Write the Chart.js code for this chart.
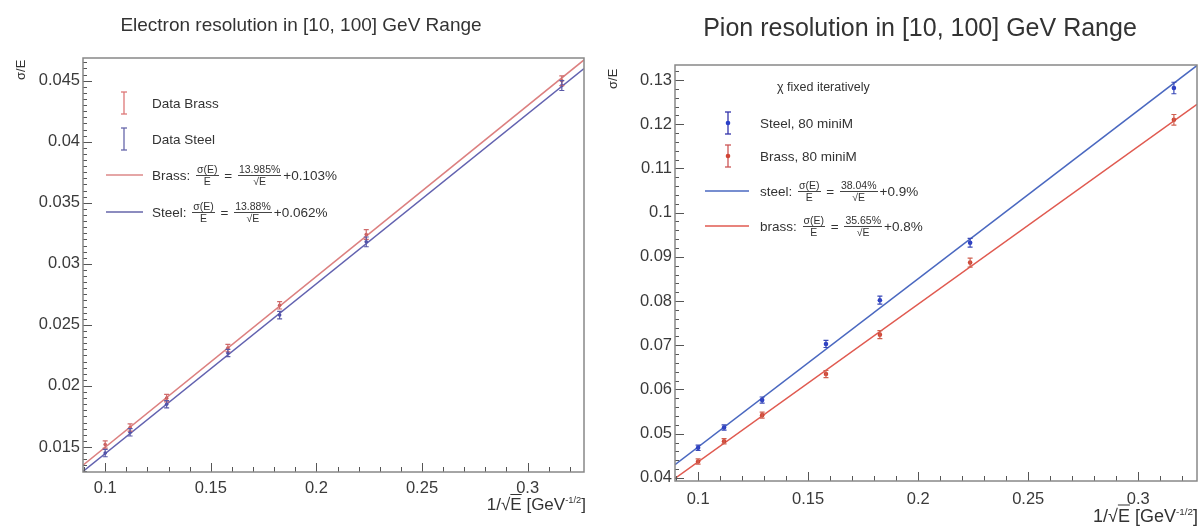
<!DOCTYPE html>
<html lang="en">
<head>
<meta charset="UTF-8">
<title>Electron / Pion resolution</title>
<script src="https://cdn.jsdelivr.net/npm/chart.js"></script>
<style>
    body { margin: 0; background: #fff; font-family: "Liberation Sans", Arial, sans-serif; color: #333; }
    #page { position: relative; width: 1203px; height: 526px; overflow: hidden; }
    .panel { position: absolute; top: 0; }
    .title { position: absolute; white-space: nowrap; transform: translate(-50%, -50%); color: #333; }
    .ytitle { position: absolute; transform-origin: left top; transform: rotate(-90deg); font-size: 13px; white-space: nowrap; line-height: 14px; }
    .xtitle { position: absolute; white-space: nowrap; transform: translate(-100%, -50%); }
    .xtitle sup { font-size: 55%; }
    .ov { text-decoration: overline; }
    .row { position: absolute; white-space: nowrap; display: flex; align-items: center; transform: translateY(-50%); font-size: 13.5px; }
    .frac { display: inline-flex; flex-direction: column; align-items: center; font-size: 10.5px; line-height: 10.5px; margin: 0 2px; }
    .frac .num { border-bottom: 1px solid #444; padding: 0 1px; }
    .sym { position: absolute; }
</style>
</head>
<body>
<div id="page">
    <canvas id="elec" class="panel" style="left:0" width="600" height="526"></canvas>
    <canvas id="pion" class="panel" style="left:600px" width="603" height="526"></canvas>

    <div class="title" style="left:301px; top:25px; font-size:19px">Electron resolution in [10, 100] GeV Range</div>
    <div class="title" style="left:920px; top:27px; font-size:25px">Pion resolution in [10, 100] GeV Range</div>

    <div class="ytitle" style="left:14px; top:80px">σ/E</div>
    <div class="ytitle" style="left:606px; top:89px">σ/E</div>
    <div class="xtitle" style="left:586px; top:505px; font-size:17px">1/√<span class="ov">E</span> [GeV<sup>-1/2</sup>]</div>
    <div class="xtitle" style="left:1198px; top:516px; font-size:18px">1/√<span class="ov">E</span> [GeV<sup>-1/2</sup>]</div>

    <!-- electron legend -->
    <svg class="sym" style="left:119px; top:91px" width="10" height="60">
        <line x1="5" y1="1" x2="5" y2="23" stroke="#d77" stroke-width="1.3"/>
        <line x1="2" y1="1" x2="8" y2="1" stroke="#d77" stroke-width="1.3"/>
        <line x1="2" y1="23" x2="8" y2="23" stroke="#d77" stroke-width="1.3"/>
        <line x1="5" y1="37" x2="5" y2="59" stroke="#66a" stroke-width="1.3"/>
        <line x1="2" y1="37" x2="8" y2="37" stroke="#66a" stroke-width="1.3"/>
        <line x1="2" y1="59" x2="8" y2="59" stroke="#66a" stroke-width="1.3"/>
    </svg>
    <div class="row" style="left:152px; top:103px">Data Brass</div>
    <div class="row" style="left:152px; top:139px">Data Steel</div>
    <svg class="sym" style="left:106px; top:170px" width="37" height="46">
        <line x1="0" y1="5" x2="37" y2="5" stroke="#d88" stroke-width="1.5"/>
        <line x1="0" y1="42" x2="37" y2="42" stroke="#66a" stroke-width="1.5"/>
    </svg>
    <div class="row" style="left:152px; top:175px">Brass:&nbsp;<span class="frac"><span class="num">σ(E)</span><span>E</span></span>&nbsp;=&nbsp;<span class="frac"><span class="num">13.985%</span><span>√E</span></span>+0.103%</div>
    <div class="row" style="left:152px; top:212px">Steel:&nbsp;<span class="frac"><span class="num">σ(E)</span><span>E</span></span>&nbsp;=&nbsp;<span class="frac"><span class="num">13.88%</span><span>√E</span></span>+0.062%</div>

    <!-- pion legend -->
    <div class="row" style="left:777px; top:87px; font-size:12.5px">χ fixed iteratively</div>
    <svg class="sym" style="left:723px; top:111px" width="10" height="58">
        <line x1="5" y1="1" x2="5" y2="23" stroke="#33a" stroke-width="1.3"/>
        <line x1="2" y1="1" x2="8" y2="1" stroke="#33a" stroke-width="1.3"/>
        <line x1="2" y1="23" x2="8" y2="23" stroke="#33a" stroke-width="1.3"/>
        <circle cx="5" cy="12" r="2.3" fill="#2a3fc8"/>
        <line x1="5" y1="34" x2="5" y2="56" stroke="#c55" stroke-width="1.3"/>
        <line x1="2" y1="34" x2="8" y2="34" stroke="#c55" stroke-width="1.3"/>
        <line x1="2" y1="56" x2="8" y2="56" stroke="#c55" stroke-width="1.3"/>
        <circle cx="5" cy="45" r="2.3" fill="#d04535"/>
    </svg>
    <div class="row" style="left:760px; top:123px">Steel, 80 miniM</div>
    <div class="row" style="left:760px; top:156px">Brass, 80 miniM</div>
    <svg class="sym" style="left:705px; top:186px" width="44" height="46">
        <line x1="0" y1="5" x2="44" y2="5" stroke="#4a68c0" stroke-width="1.5"/>
        <line x1="0" y1="40" x2="44" y2="40" stroke="#e05a50" stroke-width="1.5"/>
    </svg>
    <div class="row" style="left:760px; top:191px">steel:&nbsp;<span class="frac"><span class="num">σ(E)</span><span>E</span></span>&nbsp;=&nbsp;<span class="frac"><span class="num">38.04%</span><span>√E</span></span>+0.9%</div>
    <div class="row" style="left:760px; top:226px">brass:&nbsp;<span class="frac"><span class="num">σ(E)</span><span>E</span></span>&nbsp;=&nbsp;<span class="frac"><span class="num">35.65%</span><span>√E</span></span>+0.8%</div>
</div>

<script>
// 1/sqrt(E) for E = 100, 80, 60, 40, 30, 20, 10 GeV
const xVals = [0.1, 0.1118, 0.1291, 0.1581, 0.1826, 0.2236, 0.3162];

// electron sigma/E
const elecBrass = [0.0152, 0.0166, 0.0190, 0.0231, 0.0266, 0.0324, 0.0450];
const elecSteel = [0.0145, 0.0162, 0.0185, 0.0227, 0.0258, 0.0318, 0.0446];
const elecBrassErr = [0.0003, 0.0003, 0.0003, 0.0003, 0.0003, 0.0004, 0.0004];
const elecSteelErr = [0.0003, 0.0003, 0.0003, 0.0003, 0.0003, 0.0004, 0.0004];

// pion sigma/E
const pionSteel = [0.0468, 0.0514, 0.0576, 0.0703, 0.0802, 0.0932, 0.1282];
const pionBrass = [0.0437, 0.0483, 0.0542, 0.0635, 0.0724, 0.0887, 0.1210];
const pionSteelErr = [0.0006, 0.0006, 0.0007, 0.0008, 0.0009, 0.0010, 0.0013];
const pionBrassErr = [0.0006, 0.0006, 0.0007, 0.0008, 0.0009, 0.0010, 0.0012];

// fit lines, ends at the frame edges
const fitX = [0.0895, 0.3267];
const elecBrassFit = [0.0135, 0.0467];
const elecSteelFit = [0.0130, 0.0460];
const pionSteelFit = [0.0430, 0.1333];
const pionBrassFit = [0.0399, 0.1245];

// axes
const xRange = [0.0895, 0.3267];
const xTicks = [0.1, 0.15, 0.2, 0.25, 0.3];
const elecYRange = [0.01295, 0.04686];
const elecYTicks = [0.015, 0.02, 0.025, 0.03, 0.035, 0.04, 0.045];
const pionYRange = [0.0393, 0.1334];
const pionYTicks = [0.04, 0.05, 0.06, 0.07, 0.08, 0.09, 0.1, 0.11, 0.12, 0.13];

Chart.defaults.font.family = '"Liberation Sans", Arial, sans-serif';
Chart.defaults.font.size = 16.5;
Chart.defaults.color = '#3a3a3a';

const pts = (xs, ys) => xs.map((x, i) => ({ x: x, y: ys[i] }));

// error bars drawn through the chart scales
const errorBars = {
    id: 'errorBars',
    afterDatasetsDraw(chart) {
        const { ctx, scales: { x, y } } = chart;
        ctx.save();
        chart.data.datasets.forEach(ds => {
            if (!ds.errors) return;
            ctx.strokeStyle = ds.borderColor;
            ctx.lineWidth = 1.2;
            ds.data.forEach((p, i) => {
                const px = x.getPixelForValue(p.x);
                const y1 = y.getPixelForValue(p.y - ds.errors[i]);
                const y2 = y.getPixelForValue(p.y + ds.errors[i]);
                ctx.beginPath();
                ctx.moveTo(px, y1); ctx.lineTo(px, y2);
                ctx.moveTo(px - 2.5, y1); ctx.lineTo(px + 2.5, y1);
                ctx.moveTo(px - 2.5, y2); ctx.lineTo(px + 2.5, y2);
                ctx.stroke();
            });
        });
        ctx.restore();
    }
};

// ROOT style frame with ticks pointing inside
const frameTicks = {
    id: 'frameTicks',
    afterDraw(chart, args, o) {
        const { ctx, chartArea: a, scales: { x, y } } = chart;
        ctx.save();
        ctx.strokeStyle = '#555';
        ctx.lineWidth = 1;
        const isMajor = (k, step, major) => Math.abs(k * step / major - Math.round(k * step / major)) < 1e-6;
        ctx.beginPath();
        for (let k = Math.ceil(x.min / o.xMinor); k * o.xMinor <= x.max; k++) {
            const px = Math.round(x.getPixelForValue(k * o.xMinor)) + 0.5;
            const len = isMajor(k, o.xMinor, o.xMajor) ? 9 : 5;
            ctx.moveTo(px, a.bottom); ctx.lineTo(px, a.bottom - len);
        }
        for (let k = Math.ceil(y.min / o.yMinor); k * o.yMinor <= y.max; k++) {
            const py = Math.round(y.getPixelForValue(k * o.yMinor)) + 0.5;
            const len = isMajor(k, o.yMinor, o.yMajor) ? 9 : 4;
            ctx.moveTo(a.left, py); ctx.lineTo(a.left + len, py);
        }
        ctx.stroke();
        ctx.strokeStyle = '#888';
        ctx.lineWidth = 1.5;
        ctx.strokeRect(a.left, a.top, a.width, a.height);
        ctx.restore();
    }
};

function makeChart(id, box, yRange, yTicks, tickOpts, datasets) {
    return new Chart(document.getElementById(id), {
        type: 'scatter',
        data: { datasets: datasets },
        options: {
            responsive: false,
            animation: false,
            layout: { padding: { left: 0, right: box.right, top: box.top, bottom: 0 } },
            plugins: { legend: { display: false }, tooltip: { enabled: false }, frameTicks: tickOpts },
            scales: {
                x: {
                    type: 'linear', min: xRange[0], max: xRange[1],
                    grid: { display: false, drawTicks: false },
                    border: { display: false },
                    afterFit: s => { s.height = box.xHeight; },
                    afterBuildTicks: s => { s.ticks = xTicks.map(v => ({ value: v })); },
                    ticks: { padding: box.xPad, autoSkip: false, maxRotation: 0, callback: v => String(+v.toFixed(3)) }
                },
                y: {
                    type: 'linear', min: yRange[0], max: yRange[1],
                    grid: { display: false, drawTicks: false },
                    border: { display: false },
                    afterFit: s => { s.width = box.yWidth; },
                    afterBuildTicks: s => { s.ticks = yTicks.map(v => ({ value: v })); },
                    ticks: { padding: 3, autoSkip: false, callback: v => String(+v.toFixed(3)) }
                }
            }
        },
        plugins: [errorBars, frameTicks]
    });
}

makeChart('elec', { right: 16, top: 58, xHeight: 54, yWidth: 83, xPad: 7 }, elecYRange, elecYTicks,
    { xMinor: 0.01, xMajor: 0.05, yMinor: 0.0005, yMajor: 0.005 },
    [
        { data: pts(xVals, elecBrass), errors: elecBrassErr, showLine: false, pointRadius: 1.8,
          backgroundColor: '#c85a5a', borderColor: '#d06a6a', borderWidth: 0 },
        { data: pts(xVals, elecSteel), errors: elecSteelErr, showLine: false, pointRadius: 1.8,
          backgroundColor: '#4a4aa8', borderColor: '#5a5aa8', borderWidth: 0 },
        { data: pts(fitX, elecBrassFit), showLine: true, pointRadius: 0, borderColor: '#dc8080', borderWidth: 1.5 },
        { data: pts(fitX, elecSteelFit), showLine: true, pointRadius: 0, borderColor: '#6262b0', borderWidth: 1.5 }
    ]);

makeChart('pion', { right: 6, top: 65, xHeight: 45, yWidth: 75, xPad: 9 }, pionYRange, pionYTicks,
    { xMinor: 0.01, xMajor: 0.05, yMinor: 0.002, yMajor: 0.01 },
    [
        { data: pts(xVals, pionSteel), errors: pionSteelErr, showLine: false, pointRadius: 2.3,
          backgroundColor: '#2a3fc8', borderColor: '#3a4ab8', borderWidth: 0 },
        { data: pts(xVals, pionBrass), errors: pionBrassErr, showLine: false, pointRadius: 2.3,
          backgroundColor: '#d04535', borderColor: '#d06050', borderWidth: 0 },
        { data: pts(fitX, pionSteelFit), showLine: true, pointRadius: 0, borderColor: '#4a68c0', borderWidth: 1.5 },
        { data: pts(fitX, pionBrassFit), showLine: true, pointRadius: 0, borderColor: '#e05a50', borderWidth: 1.5 }
    ]);
</script>
</body>
</html>
